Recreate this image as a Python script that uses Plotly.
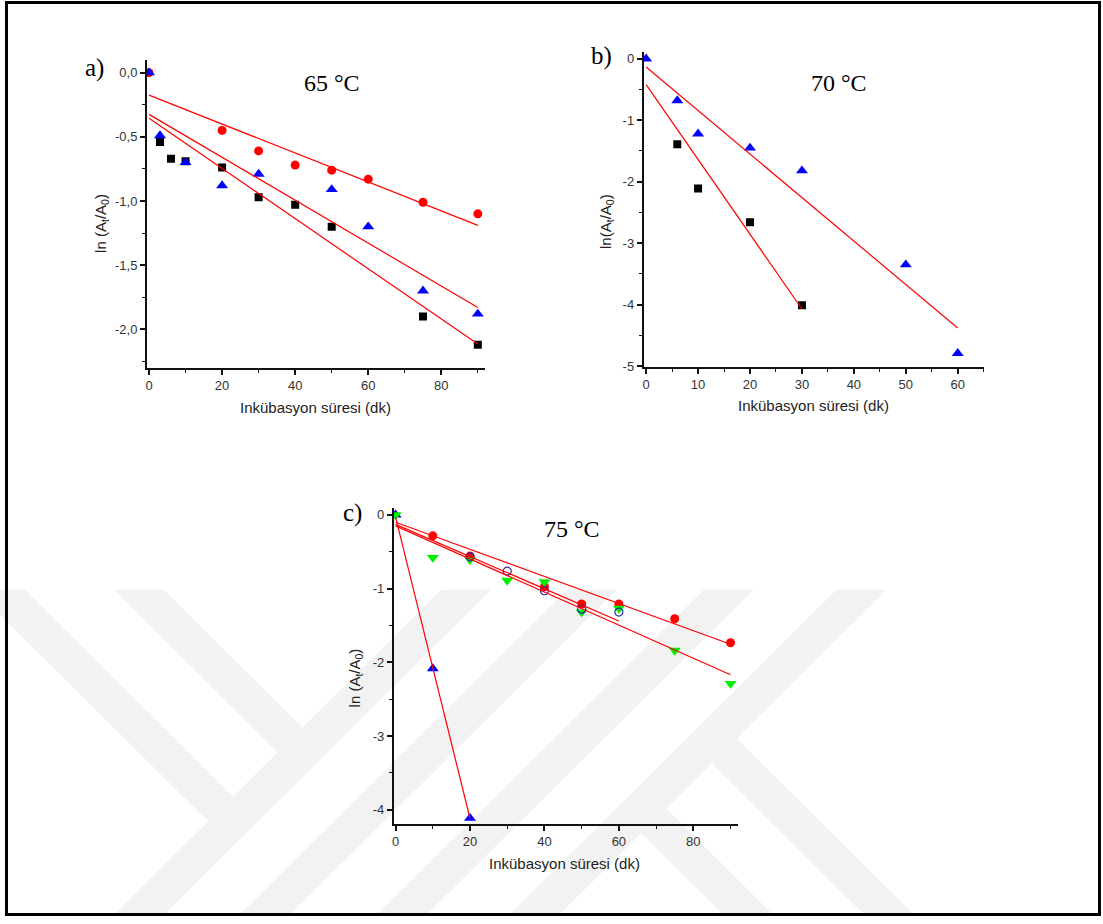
import plotly.graph_objects as go

W, H = 1103, 924

# ---------------- data: panel a (65 °C) ----------------
a_red_t = [0, 20, 30, 40, 50, 60, 75, 90]
a_red_y = [0, -0.45, -0.61, -0.72, -0.76, -0.83, -1.01, -1.10]
a_black_t = [3, 6, 10, 20, 30, 40, 50, 75, 90]
a_black_y = [-0.54, -0.67, -0.69, -0.74, -0.97, -1.03, -1.20, -1.90, -2.12]
a_blue_t = [0, 3, 10, 20, 30, 50, 60, 75, 90]
a_blue_y = [0, -0.49, -0.70, -0.88, -0.79, -0.91, -1.20, -1.70, -1.88]
a_fit_t = [0, 90]
a_fit_red = [-0.175, -1.19]
a_fit_blue = [-0.325, -1.83]
a_fit_black = [-0.355, -2.115]
a_yticks = [0, -0.5, -1.0, -1.5, -2.0]
a_yticktext = ["0,0", "-0,5", "-1,0", "-1,5", "-2,0"]

# ---------------- data: panel b (70 °C) ----------------
b_black_t = [6, 10, 20, 30]
b_black_y = [-1.39, -2.11, -2.66, -4.01]
b_blue_t = [0, 6, 10, 20, 30, 50, 60]
b_blue_y = [0, -0.68, -1.22, -1.45, -1.82, -3.35, -4.79]
b_fit_blue_t = [0, 60]
b_fit_blue_y = [-0.135, -4.38]
b_fit_black_t = [0, 30]
b_fit_black_y = [-0.42, -4.07]

# ---------------- data: panel c (75 °C) ----------------
c_tri_t = [0, 10, 20]
c_tri_y = [0, -2.085, -4.115]
c_red_t = [10, 20, 40, 50, 60, 75, 90]
c_red_y = [-0.285, -0.56, -0.975, -1.21, -1.21, -1.41, -1.735]
c_green_t = [0, 10, 20, 30, 40, 50, 60, 75, 90]
c_green_y = [0, -0.58, -0.61, -0.89, -0.91, -1.32, -1.27, -1.84, -2.29]
c_circ_t = [20, 30, 40, 50, 60]
c_circ_y = [-0.57, -0.765, -1.03, -1.28, -1.32]
c_fit_red_t = [0, 90]
c_fit_red_y = [-0.10, -1.755]
c_fit_circ_t = [0, 60]
c_fit_circ_y = [-0.13, -1.44]
c_fit_green_t = [0, 90]
c_fit_green_y = [-0.15, -2.17]
c_fit_tri_t = [0, 20]
c_fit_tri_y = [-0.03, -4.12]

XTITLE = "Inkübasyon süresi (dk)"
SANS = "Liberation Sans, Arial, sans-serif"
SERIF = "Liberation Serif, Times New Roman, serif"

RED = "#ff0000"
BLUE = "#0000ff"
BLACK = "#000000"
GREEN = "#00f000"
NAVY = "#2a2aa8"

fig = go.Figure()


def pts(t, y, ax, symbol, color, size, lw=0):
    marker = dict(symbol=symbol, size=size, color=color,
                  line=dict(color=color, width=lw))
    fig.add_trace(go.Scatter(x=t, y=y, mode="markers", marker=marker,
                             xaxis="x" + ax, yaxis="y" + ax, showlegend=False,
                             hoverinfo="x+y"))


def fit(t, y, ax):
    fig.add_trace(go.Scatter(x=t, y=y, mode="lines",
                             line=dict(color=RED, width=1.2),
                             xaxis="x" + ax, yaxis="y" + ax, showlegend=False,
                             hoverinfo="skip"))


# panel a  -> axes x/y
pts(a_red_t, a_red_y, "", "circle", RED, 9)
pts(a_black_t, a_black_y, "", "square", BLACK, 8)
pts(a_blue_t, a_blue_y, "", "triangle-up", BLUE, 10.5)
fit(a_fit_t, a_fit_red, "")
fit(a_fit_t, a_fit_blue, "")
fit(a_fit_t, a_fit_black, "")

# panel b -> x2/y2
pts(b_black_t, b_black_y, "2", "square", BLACK, 8)
pts(b_blue_t, b_blue_y, "2", "triangle-up", BLUE, 10.5)
fit(b_fit_blue_t, b_fit_blue_y, "2")
fit(b_fit_black_t, b_fit_black_y, "2")

# panel c -> x3/y3
pts(c_tri_t, c_tri_y, "3", "triangle-up", BLUE, 10.5)
pts(c_red_t, c_red_y, "3", "circle", RED, 9)
pts(c_green_t, c_green_y, "3", "triangle-down", GREEN, 10.5)
pts(c_circ_t, c_circ_y, "3", "circle-open", NAVY, 8, lw=1.2)
fit(c_fit_red_t, c_fit_red_y, "3")
fit(c_fit_circ_t, c_fit_circ_y, "3")
fit(c_fit_green_t, c_fit_green_y, "3")
fit(c_fit_tri_t, c_fit_tri_y, "3")


def px_dom_x(a, b):
    return [a / W, b / W]


def px_dom_y(top, bottom):
    return [1 - bottom / H, 1 - top / H]


tickfont = dict(family=SANS, size=13, color="#333333")


def xaxis(dom, rng, dtick, minor, anchor):
    return dict(domain=dom, range=rng, anchor=anchor, showgrid=False, zeroline=False,
                showline=True, linecolor="#111111", linewidth=1.5,
                ticks="outside", ticklen=5, tickwidth=1.5, tickcolor="#111111",
                tick0=0, dtick=dtick, tickfont=tickfont,
                minor=dict(dtick=minor, tick0=0, ticks="outside", ticklen=3,
                           tickwidth=1.2, tickcolor="#111111"),
                fixedrange=True)


def yaxis(dom, rng, anchor, tickvals, ticktext, minor):
    return dict(domain=dom, range=rng, anchor=anchor, showgrid=False, zeroline=False,
                showline=True, linecolor="#111111", linewidth=1.5,
                ticks="outside", ticklen=5, tickwidth=1.5, tickcolor="#111111",
                tickmode="array", tickvals=tickvals, ticktext=ticktext,
                tickfont=tickfont,
                minor=dict(dtick=minor, tick0=0, ticks="outside", ticklen=3,
                           tickwidth=1.2, tickcolor="#111111"),
                fixedrange=True)


b_yticks = [0, -1, -2, -3, -4, -5]
c_yticks = [0, -1, -2, -3, -4]

fig.update_layout(
    width=W, height=H, autosize=False,
    margin=dict(l=0, r=0, t=0, b=0),
    paper_bgcolor="white", plot_bgcolor="rgba(0,0,0,0)",
    xaxis=xaxis(px_dom_x(145, 484), [-0.63, 92.0], 20, 10, "y"),
    yaxis=yaxis(px_dom_y(60, 370), [-2.30, 0.095], "x", a_yticks, a_yticktext, 0.25),
    xaxis2=xaxis(px_dom_x(642.7, 984), [-0.5, 65.1], 10, 5, "y2"),
    yaxis2=yaxis(px_dom_y(51.7, 369), [-5.01, 0.106], "x2", b_yticks,
                 [str(v) for v in b_yticks], 0.5),
    xaxis3=xaxis(px_dom_x(392.3, 737.3), [-0.54, 92.0], 20, 10, "y3"),
    yaxis3=yaxis(px_dom_y(511.7, 830), [-4.192, 0.089], "x3", c_yticks,
                 [str(v) for v in c_yticks], 0.5),
)

# ---------------- watermark (decorative, light grey bands) ----------------
shapes = []
GREYW = "#f2f2f2"
y0, y1, hw = 594, 921, 25


def path(points):
    s = "M " + " L ".join(f"{x / W:.5f},{1 - y / H:.5f}" for x, y in points) + " Z"
    return dict(type="path", path=s, xref="paper", yref="paper",
                fillcolor=GREYW, line=dict(width=0), layer="below")


slash_tops = [465, 591, 728, 861]
for T in slash_tops:
    d = y1 - y0
    shapes.append(path([(T - hw, y0), (T + hw, y0), (T + hw - d, y1), (T - hw - d, y1)]))

T = slash_tops[0]
for c in [-2, 137]:
    d1 = (T - 2 * hw - c) / 2
    d2 = (T - c) / 2
    shapes.append(path([(c - hw, y0), (c + hw, y0), (c + hw + d1, y0 + d1),
                        (c - hw + d2, y0 + d2)]))

T = slash_tops[-1]
for e in [561, 420]:
    dl = (T + hw - (e - hw)) / 2
    dr = (T + hw - (e + hw)) / 2
    d = y1 - y0
    shapes.append(path([(e - hw + dl, y0 + dl), (e + hw + dr, y0 + dr),
                        (e + hw + d, y1), (e - hw + d, y1)]))

# outer frame
shapes.append(dict(type="rect", xref="paper", yref="paper",
                   x0=4.5 / W, x1=1099.5 / W, y0=1 - 921.5 / H, y1=1 - 1.5 / H,
                   line=dict(color="black", width=3), fillcolor="rgba(0,0,0,0)",
                   layer="above"))
fig.update_layout(shapes=shapes)

# ---------------- texts ----------------
ann = []


def text(s, x, y, font, angle=0):
    ann.append(dict(text=s, x=x / W, y=1 - y / H, xref="paper", yref="paper",
                    showarrow=False, xanchor="center", yanchor="middle",
                    textangle=angle, font=font))


lab = dict(family=SERIF, size=25, color="black")
temp = dict(family=SERIF, size=24, color="black")
ttl = dict(family=SANS, size=15, color="#222222")

text("a)", 93, 68, lab)
text("b)", 601, 55, lab)
text("c)", 351, 516, lab)
text("65 °C", 331, 83, temp)
text("70 °C", 839, 83, temp)
text("75 °C", 571, 533, temp)

text(XTITLE, 314, 410, ttl)
text(XTITLE, 813, 408, ttl)
text(XTITLE, 564, 870, ttl)
text("ln (A<sub>t</sub>/A<sub>0</sub>)", 99, 224, ttl, -90)
text("ln(A<sub>t</sub>/A<sub>0</sub>)", 605, 222, ttl, -90)
text("ln (A<sub>t</sub>/A<sub>0</sub>)", 354, 683, ttl, -90)

fig.update_layout(annotations=ann)

fig.write_html("out.html")
